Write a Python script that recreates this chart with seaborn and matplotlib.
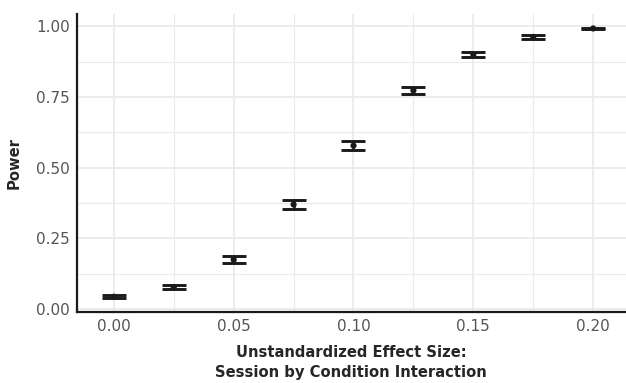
import numpy as np
import pandas as pd
import seaborn as sns
import matplotlib.pyplot as plt

OUTPUT_FILE = "out.png"

# effect sizes and simulated power
EFFECT = [0.000, 0.025, 0.050, 0.075, 0.100, 0.125, 0.150, 0.175, 0.200]
POWER = [0.044, 0.078, 0.175, 0.370, 0.578, 0.773, 0.900, 0.962, 0.992]
LOWER = [0.038, 0.070, 0.163, 0.355, 0.563, 0.760, 0.891, 0.956, 0.989]
UPPER = [0.050, 0.086, 0.187, 0.385, 0.593, 0.786, 0.909, 0.968, 0.995]
X_TICKS = [0.00, 0.05, 0.10, 0.15, 0.20]
Y_TICKS = [0.00, 0.25, 0.50, 0.75, 1.00]


def draw_power(ax: plt.Axes):
    df = pd.DataFrame({"effect": EFFECT, "power": POWER,
                       "lower": LOWER, "upper": UPPER})

    # grid like ggplot theme_minimal
    ax.set_xticks(np.arange(0, 0.21, 0.025), minor=True)
    ax.set_yticks(np.arange(0, 1.01, 0.125), minor=True)
    ax.grid(True, which="major", color="#EBEBEB", linewidth=1.3)
    ax.grid(True, which="minor", color="#EBEBEB", linewidth=0.8)
    ax.set_axisbelow(True)

    yerr = [df["power"] - df["lower"], df["upper"] - df["power"]]
    ax.errorbar(df["effect"], df["power"], yerr=yerr, fmt="none",
                ecolor="#1A1A1A", elinewidth=1.8, capsize=8.6, capthick=2.1)
    sns.scatterplot(x="effect", y="power", data=df, ax=ax, color="#1A1A1A",
                    s=20, edgecolor="none", zorder=3)

    ax.set_xlim(-0.0155, 0.2137)
    ax.set_ylim(-0.0105, 1.0425)
    ax.set_xticks(X_TICKS)
    ax.set_xticklabels([f"{v:.2f}" for v in X_TICKS])
    ax.set_yticks(Y_TICKS)
    ax.set_yticklabels([f"{v:.2f}" for v in Y_TICKS])

    ax.set_xlabel("Unstandardized Effect Size:\nSession by Condition Interaction",
                  fontsize=10.6, fontweight="bold", labelpad=8, linespacing=1.4)
    ax.set_ylabel("Power", fontsize=10.6, fontweight="bold", labelpad=10)

    for side in ["top", "right"]:
        ax.spines[side].set_visible(False)
    for side in ["left", "bottom"]:
        ax.spines[side].set_linewidth(1.6)
        ax.spines[side].set_color("#1A1A1A")

    ax.tick_params(axis="both", which="both", length=0, labelsize=11,
                   labelcolor="#555555", pad=5)


def main():
    sns.set_style("white")
    plt.rcParams["font.family"] = ["DejaVu Sans"]
    fig = plt.figure(figsize=(6.26, 3.83), dpi=100)
    ax = fig.add_axes([0.1225, 0.185, 0.8775, 0.778])
    draw_power(ax)
    fig.savefig(OUTPUT_FILE, dpi=100)


if __name__ == "__main__":
    main()
